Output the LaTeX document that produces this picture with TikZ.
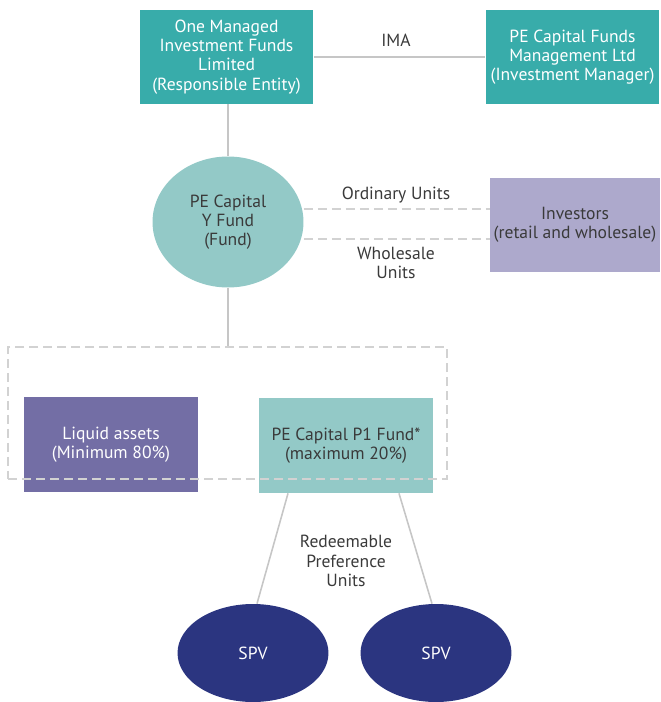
\documentclass[tikz,border=0pt]{standalone}
\usepackage{fontspec}
\setmainfont{PT Sans}
\usetikzlibrary{shapes.geometric}

\definecolor{tealdark}{HTML}{38ACAA}
\definecolor{teallight}{HTML}{93C9C7}
\definecolor{lavender}{HTML}{ADA9CC}
\definecolor{violet}{HTML}{736EA5}
\definecolor{navy}{HTML}{2B3580}
\definecolor{linegray}{HTML}{C6C6C6}
\definecolor{dashgray}{HTML}{D2D2D2}
\definecolor{textdark}{HTML}{3A3A3A}

\begin{document}
\begin{tikzpicture}[x=0.02cm, y=-0.02cm,
    every node/.style={font=\fontsize{10}{10.9}\selectfont, align=center, text=textdark},
    entity/.style={rectangle, fill=tealdark, text=white, minimum width=3.48cm, minimum height=1.88cm, inner sep=1pt},
    holding/.style={rectangle, minimum width=3.48cm, minimum height=1.9cm, inner sep=1pt},
    link/.style={draw=linegray, line width=0.9pt},
    dashlink/.style={draw=dashgray, line width=0.9pt, dash pattern=on 0.18cm off 0.1cm}]

    \useasboundingbox (0,0) rectangle (660,702);

    % top row
    \node[entity] (re) at (226.5,57) {One Managed\\Investment Funds\\Limited\\(Responsible Entity)};
    \node[entity] (im) at (572.5,57) {PE Capital Funds\\Management Ltd\\(Investment Manager)};
    \draw[link] (re.east) -- (im.west);
    \node at (396,40) {IMA};

    % fund and investors
    \node[ellipse, fill=teallight, minimum width=3.02cm, minimum height=2.62cm, inner sep=0pt] (fund) at (228,222) {PE Capital\\Y Fund\\(Fund)};
    \node[rectangle, fill=lavender, minimum width=3.4cm, minimum height=1.9cm, inner sep=1pt] (inv) at (575,225) {Investors\\(retail and wholesale)};
    \draw[link] (re.south -| fund.north) -- (fund.north);

    \coordinate (ordy) at (0,209);
    \coordinate (whly) at (0,239);
    \draw[dashlink] (fund.east |- ordy) -- (inv.west |- ordy);
    \draw[dashlink] (fund.east |- whly) -- (inv.west |- whly);
    \node at (396,195) {Ordinary Units};
    \node at (396,263) {Wholesale\\Units};

    % investments of the fund
    \node[holding, fill=violet, text=white] (liquid) at (111,444.5) {Liquid assets\\(Minimum 80\%)};
    \node[holding, fill=teallight] (p1) at (346,445.5) {PE Capital P1 Fund*\\(maximum 20\%)};
    \node[rectangle, dashlink, minimum width=8.78cm, minimum height=2.64cm] (frame) at (227.5,413) {};
    \draw[link] (fund.south) -- (fund.south |- frame.north);

    % SPVs
    \node[ellipse, fill=navy, text=white, minimum width=3.02cm, minimum height=1.96cm, inner sep=0pt] (spv1) at (253,653) {SPV};
    \node[ellipse, fill=navy, text=white, minimum width=3.02cm, minimum height=1.96cm, inner sep=0pt] (spv2) at (436,653) {SPV};
    \draw[link] ([xshift=-1.16cm]p1.south) -- ([xshift=0.08cm]spv1.north);
    \draw[link] ([xshift=1.06cm]p1.south) -- ([xshift=-0.08cm]spv2.north);
    \node at (346,561) {Redeemable\\Preference\\Units};

\end{tikzpicture}
\end{document}
